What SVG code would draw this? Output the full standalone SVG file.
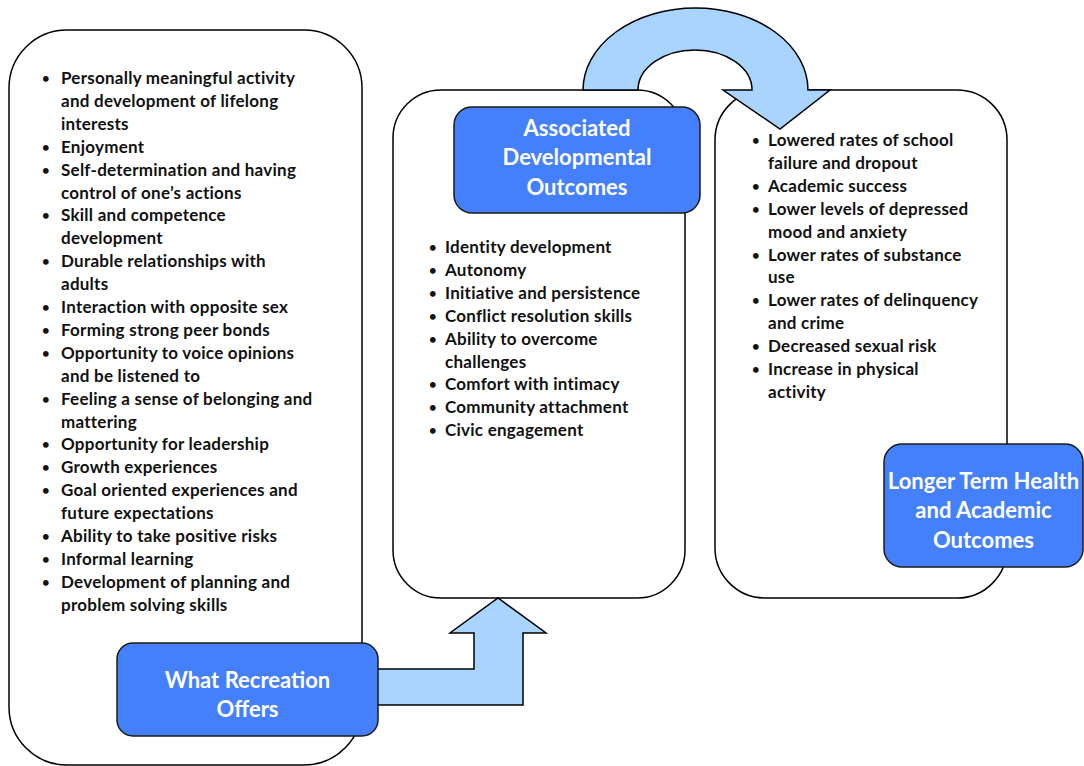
<svg xmlns="http://www.w3.org/2000/svg" width="1084" height="766" viewBox="0 0 1084 766">
<style>
.panel{fill:#fff;stroke:#000;stroke-width:1.5}
.title{fill:#4480FB;stroke:#1a1a1a;stroke-width:1.5}
.arrow{fill:#A9D4FD;stroke:#000;stroke-width:1.5;stroke-linejoin:miter}
.item{font-family:Lato,"Open Sans",sans-serif;font-weight:bold;font-size:17px;letter-spacing:0.25px;fill:#111}
.b{font-size:13px;letter-spacing:0}
.ttl{font-family:Lato,"Open Sans",sans-serif;font-weight:bold;font-size:22px;fill:#fff;text-anchor:middle}
</style>
<rect width="1084" height="766" fill="#fff"/>
<g id="panel-offers"><rect class="panel" x="9" y="30" width="353" height="735" rx="58" ry="58"/>
<text class="item">
<tspan class="b" x="42" y="83">•</tspan><tspan x="61" y="84">Personally meaningful activity</tspan>
<tspan x="61" y="106.9">and development of lifelong</tspan>
<tspan x="61" y="129.8">interests</tspan>
<tspan class="b" x="42" y="151.7">•</tspan><tspan x="61" y="152.7">Enjoyment</tspan>
<tspan class="b" x="42" y="174.6">•</tspan><tspan x="61" y="175.6">Self-determination and having</tspan>
<tspan x="61" y="198.5">control of one’s actions</tspan>
<tspan class="b" x="42" y="220.4">•</tspan><tspan x="61" y="221.4">Skill and competence</tspan>
<tspan x="61" y="244.3">development</tspan>
<tspan class="b" x="42" y="266.2">•</tspan><tspan x="61" y="267.2">Durable relationships with</tspan>
<tspan x="61" y="290.1">adults</tspan>
<tspan class="b" x="42" y="312">•</tspan><tspan x="61" y="313">Interaction with opposite sex</tspan>
<tspan class="b" x="42" y="334.9">•</tspan><tspan x="61" y="335.9">Forming strong peer bonds</tspan>
<tspan class="b" x="42" y="357.8">•</tspan><tspan x="61" y="358.8">Opportunity to voice opinions</tspan>
<tspan x="61" y="381.7">and be listened to</tspan>
<tspan class="b" x="42" y="403.6">•</tspan><tspan x="61" y="404.6">Feeling a sense of belonging and</tspan>
<tspan x="61" y="427.5">mattering</tspan>
<tspan class="b" x="42" y="449.4">•</tspan><tspan x="61" y="450.4">Opportunity for leadership</tspan>
<tspan class="b" x="42" y="472.3">•</tspan><tspan x="61" y="473.3">Growth experiences</tspan>
<tspan class="b" x="42" y="495.2">•</tspan><tspan x="61" y="496.2">Goal oriented experiences and</tspan>
<tspan x="61" y="519.1">future expectations</tspan>
<tspan class="b" x="42" y="541">•</tspan><tspan x="61" y="542">Ability to take positive risks</tspan>
<tspan class="b" x="42" y="563.9">•</tspan><tspan x="61" y="564.9">Informal learning</tspan>
<tspan class="b" x="42" y="586.8">•</tspan><tspan x="61" y="587.8">Development of planning and</tspan>
<tspan x="61" y="610.7">problem solving skills</tspan>
</text></g>
<g id="panel-developmental"><rect class="panel" x="393" y="90" width="292" height="508" rx="48" ry="48"/>
<text class="item">
<tspan class="b" x="429" y="252">•</tspan><tspan x="445" y="253">Identity development</tspan>
<tspan class="b" x="429" y="274.9">•</tspan><tspan x="445" y="275.9">Autonomy</tspan>
<tspan class="b" x="429" y="297.8">•</tspan><tspan x="445" y="298.8">Initiative and persistence</tspan>
<tspan class="b" x="429" y="320.7">•</tspan><tspan x="445" y="321.7">Conflict resolution skills</tspan>
<tspan class="b" x="429" y="343.6">•</tspan><tspan x="445" y="344.6">Ability to overcome</tspan>
<tspan x="445" y="367.5">challenges</tspan>
<tspan class="b" x="429" y="389.4">•</tspan><tspan x="445" y="390.4">Comfort with intimacy</tspan>
<tspan class="b" x="429" y="412.3">•</tspan><tspan x="445" y="413.3">Community attachment</tspan>
<tspan class="b" x="429" y="435.2">•</tspan><tspan x="445" y="436.2">Civic engagement</tspan>
</text></g>
<g id="panel-longterm"><rect class="panel" x="715" y="90" width="292" height="508" rx="50" ry="50"/>
<text class="item">
<tspan class="b" x="752" y="145">•</tspan><tspan x="768" y="146">Lowered rates of school</tspan>
<tspan x="768" y="168.9">failure and dropout</tspan>
<tspan class="b" x="752" y="190.8">•</tspan><tspan x="768" y="191.8">Academic success</tspan>
<tspan class="b" x="752" y="213.7">•</tspan><tspan x="768" y="214.7">Lower levels of depressed</tspan>
<tspan x="768" y="237.6">mood and anxiety</tspan>
<tspan class="b" x="752" y="259.5">•</tspan><tspan x="768" y="260.5">Lower rates of substance</tspan>
<tspan x="768" y="283.4">use</tspan>
<tspan class="b" x="752" y="305.3">•</tspan><tspan x="768" y="306.3">Lower rates of delinquency</tspan>
<tspan x="768" y="329.2">and crime</tspan>
<tspan class="b" x="752" y="351.1">•</tspan><tspan x="768" y="352.1">Decreased sexual risk</tspan>
<tspan class="b" x="752" y="374">•</tspan><tspan x="768" y="375">Increase in physical</tspan>
<tspan x="768" y="397.9">activity</tspan>
</text></g>
<g id="connectors">
<path class="arrow" d="M372,669 L474,669 L474,633 L450,633 L498,598 L546,633 L523,633 L523,705 L372,705 Z"/>
<path class="arrow" d="M583,90 A112.5,82 0 0 1 808,90 L830,90 L780,129 L723,90 L752,90 A57,40 0 0 0 638,90 Z"/>
</g>
<g id="title-offers"><rect class="title" x="117" y="643" width="261" height="93" rx="16" ry="16"/>
<text class="ttl"><tspan x="247.5" y="688">What Recreation</tspan><tspan x="247.5" y="716.5">Offers</tspan></text></g>
<g id="title-developmental"><rect class="title" x="454" y="107" width="246" height="106" rx="18" ry="18"/>
<text class="ttl"><tspan x="577" y="135.5">Associated</tspan><tspan x="577" y="165">Developmental</tspan><tspan x="577" y="194.5">Outcomes</tspan></text></g>
<g id="title-longterm"><rect class="title" x="884" y="444" width="199" height="123" rx="18" ry="18"/>
<text class="ttl"><tspan x="983.5" y="488.5">Longer Term Health</tspan><tspan x="983.5" y="518">and Academic</tspan><tspan x="983.5" y="547.5">Outcomes</tspan></text></g>
</svg>
